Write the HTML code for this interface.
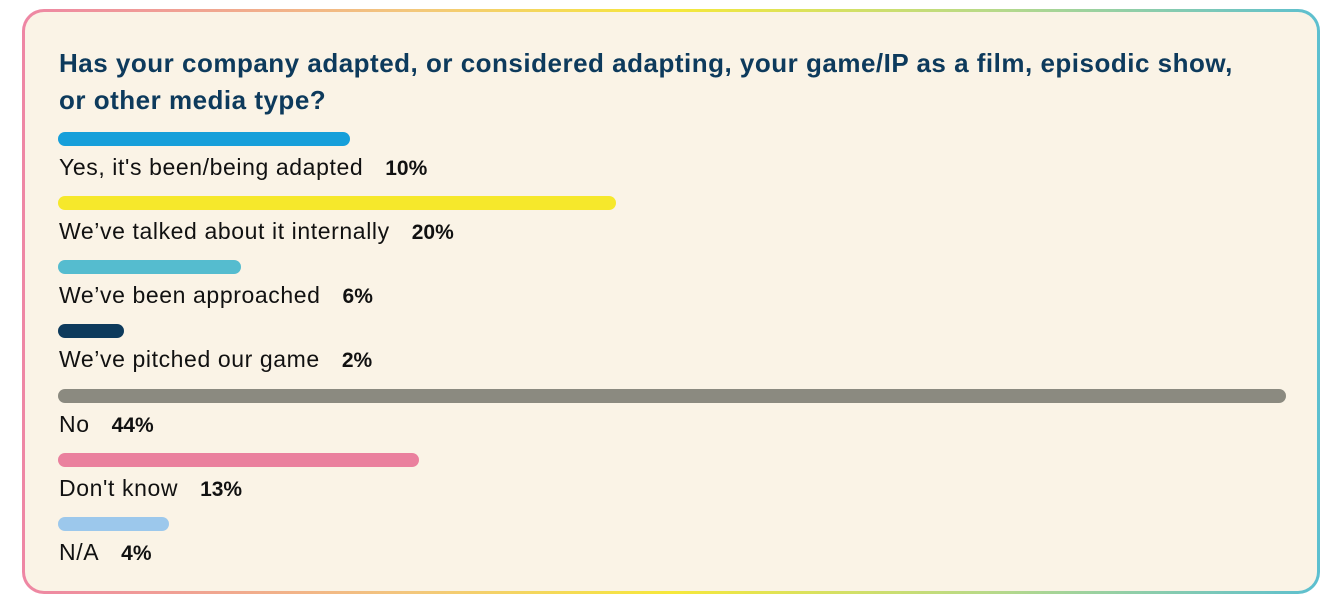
<!DOCTYPE html>
<html><head><style>
body{margin:0;width:1332px;height:614px;background:#fff;position:relative;font-family:"Liberation Sans",sans-serif;overflow:hidden}
.frame{position:absolute;left:22px;top:9px;width:1298px;height:585px;border-radius:22px;background:linear-gradient(90deg,#ee86a4,#f3c77c 30%,#f6e83a 50%,#b6d98a 75%,#5cbfd0);}
.inner{position:absolute;left:3px;top:3px;right:3px;bottom:3px;border-radius:19px;background:#faf3e6}
h1{position:absolute;left:59px;top:45px;margin:0;font-size:26px;line-height:37px;font-weight:bold;color:#0d3a5c;width:1260px;white-space:nowrap;letter-spacing:0.5px}
.bar{position:absolute;left:58px;height:14px;border-radius:7px}
.lab{position:absolute;left:59px;font-size:23px;letter-spacing:0.6px;color:#111;white-space:nowrap;line-height:26px}
.lab b{margin-left:22px;font-size:21px;letter-spacing:0}
</style></head><body>
<div class="frame"><div class="inner"></div></div>
<h1>Has your company adapted, or considered adapting, your game/IP as a film, episodic show,<br>or other media type?</h1>
<div class="bar" style="top:132px;width:292px;background:#169fda"></div>
<div class="lab" style="top:154px">Yes, it's been/being adapted<b>10%</b></div>
<div class="bar" style="top:196px;width:558px;background:#f6e82b"></div>
<div class="lab" style="top:218px">We’ve talked about it internally<b>20%</b></div>
<div class="bar" style="top:260px;width:183px;background:#55bccf"></div>
<div class="lab" style="top:282px">We’ve been approached<b>6%</b></div>
<div class="bar" style="top:324px;width:66px;background:#0d3a5c"></div>
<div class="lab" style="top:346px">We’ve pitched our game<b>2%</b></div>
<div class="bar" style="top:389px;width:1228px;background:#8b8a80"></div>
<div class="lab" style="top:411px">No<b>44%</b></div>
<div class="bar" style="top:453px;width:361px;background:#ea809e"></div>
<div class="lab" style="top:475px">Don't know<b>13%</b></div>
<div class="bar" style="top:517px;width:111px;background:#9cc8ec"></div>
<div class="lab" style="top:539px">N/A<b>4%</b></div>
</body></html>
